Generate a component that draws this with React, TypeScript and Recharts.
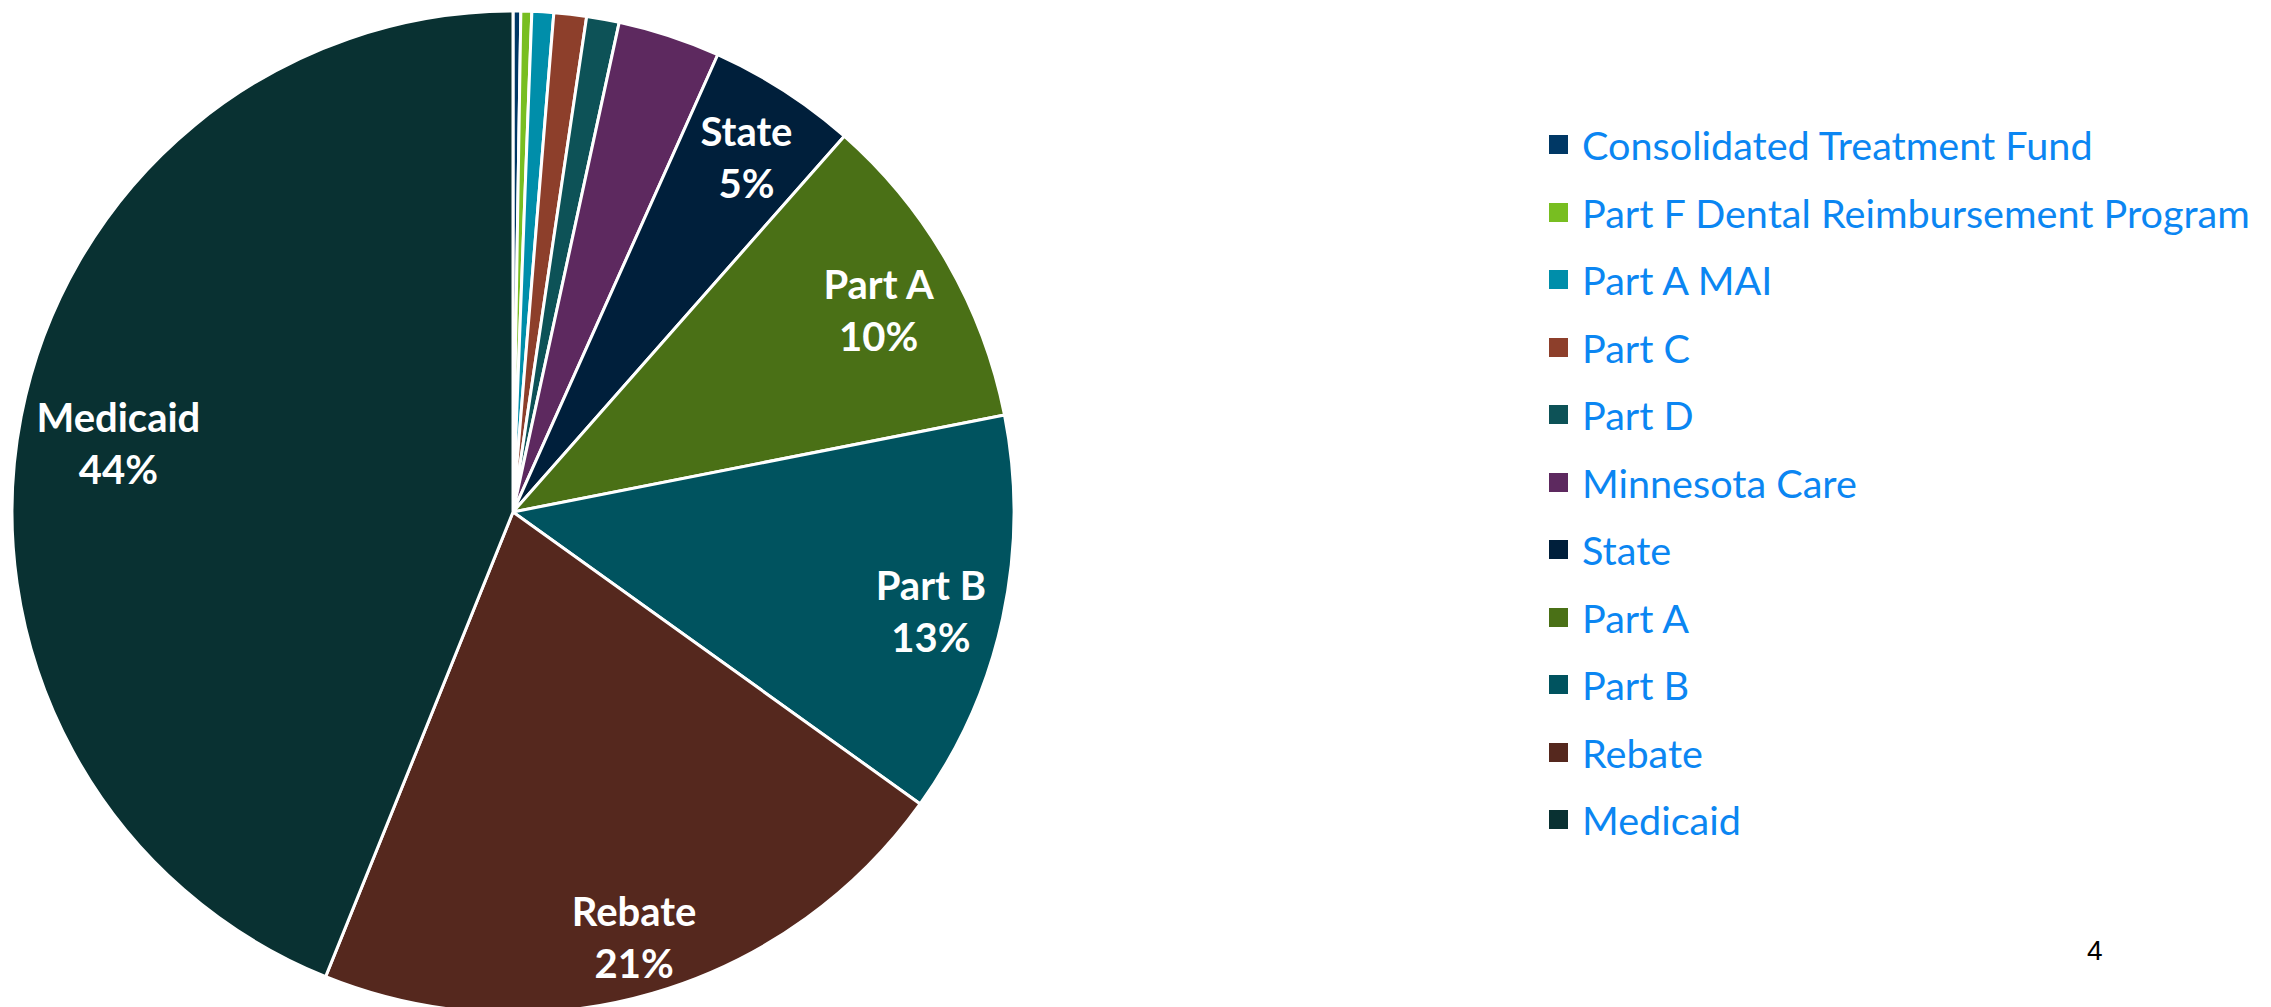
import { PieChart, Pie, Cell, Legend } from 'recharts';

const names = [
  'Consolidated Treatment Fund',
  'Part F Dental Reimbursement Program',
  'Part A MAI',
  'Part C',
  'Part D',
  'Minnesota Care',
  'State',
  'Part A',
  'Part B',
  'Rebate',
  'Medicaid',
];
const shares = [0.25, 0.35, 0.7, 1.05, 1.05, 3.3, 4.8, 10.4, 13.0, 21.2, 43.9];
const colors = [
  '#003865', '#78be21', '#008eaa', '#8d3f2b', '#0d5257', '#5d295f',
  '#001f3b', '#4a7016', '#00535f', '#55281e', '#093132',
];
// only the big slices carry a label in the original
const labeled = ['State', 'Part A', 'Part B', 'Rebate', 'Medicaid'];

const rows = names.map((name, i) => ({ name, value: shares[i] }));

const FONT = 'Lato, "Open Sans", sans-serif';
const LABEL_SIZE = 40;
const RADIAN = Math.PI / 180;

const ctx = document.createElement('canvas').getContext('2d');
function textWidth(s: string) {
  if (!ctx) return s.length * LABEL_SIZE * 0.5;
  ctx.font = `700 ${LABEL_SIZE}px ${FONT}`;
  return ctx.measureText(s).width;
}

// "inside end" placement: push the label box out until it nearly touches the rim
function SliceLabel(props: any) {
  const { cx, cy, midAngle, outerRadius, name, percent } = props;
  if (!labeled.includes(name)) return null;
  const pct = `${Math.round(percent * 100)}%`;
  const hw = Math.max(textWidth(name), textWidth(pct)) / 2;
  const hh = 40;
  const ux = Math.cos(-midAngle * RADIAN);
  const uy = Math.sin(-midAngle * RADIAN);
  const r = outerRadius - 11 - (hw * Math.abs(ux) + hh * Math.abs(uy));
  const x = cx + r * ux;
  const y = cy + r * uy;
  return (
    <text x={x} y={y} fill="#ffffff" textAnchor="middle" fontFamily={FONT} fontWeight={700} fontSize={LABEL_SIZE}>
      <tspan x={x} dy={-3}>{name}</tspan>
      <tspan x={x} dy={52}>{pct}</tspan>
    </text>
  );
}

function LegendList() {
  return (
    <div style={{ fontFamily: FONT }}>
      {names.map((n, i) => (
        <div key={n} style={{ display: 'flex', alignItems: 'center', height: 67.5 }}>
          <span style={{ width: 19, height: 19, background: colors[i], marginRight: 14, flexShrink: 0 }} />
          <span style={{ color: '#0b86f2', fontSize: 39.6, whiteSpace: 'nowrap' }}>{n}</span>
        </div>
      ))}
    </div>
  );
}

export default function App() {
  return (
    <div style={{ position: 'absolute', left: 0, top: 0, width: 2271, height: 1007, background: '#fff', overflow: 'hidden' }}>
      <PieChart width={2271} height={1007} margin={{ top: 0, right: 0, bottom: 0, left: 0 }}>
        <Pie
          data={rows}
          dataKey="value"
          nameKey="name"
          cx={513}
          cy={512}
          outerRadius={501}
          startAngle={90}
          endAngle={-270}
          stroke="#ffffff"
          strokeWidth={3}
          label={SliceLabel}
          labelLine={false}
          isAnimationActive={false}
        >
          {rows.map((r, i) => (
            <Cell key={r.name} fill={colors[i]} />
          ))}
        </Pie>
        <Legend
          content={() => <LegendList />}
          verticalAlign="top"
          align="right"
          layout="vertical"
          wrapperStyle={{ left: 1549, top: 111, width: 720 }}
        />
      </PieChart>
      <div style={{ position: 'absolute', left: 2087, top: 935, fontFamily: 'Arial, "Liberation Sans", sans-serif', fontSize: 28, color: '#000' }}>4</div>
    </div>
  );
}
